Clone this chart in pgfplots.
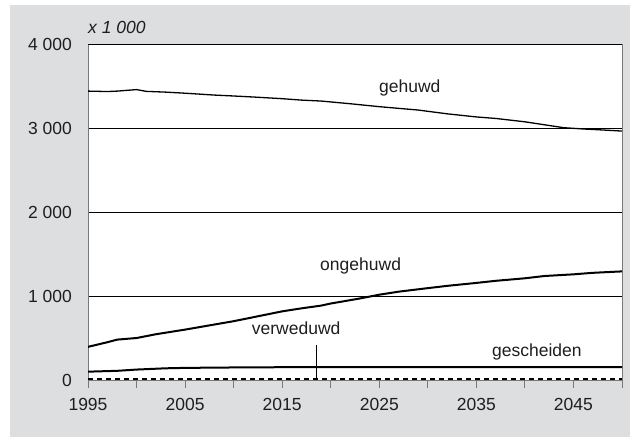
\documentclass[border=0pt]{standalone}
\usepackage{pgfplots}
\pgfplotsset{compat=1.18}
\usepackage{fontspec}
\setmainfont{Liberation Sans}

\definecolor{bggray}{RGB}{221,222,224}
\definecolor{axgray}{RGB}{120,120,120}
\definecolor{txt}{RGB}{30,30,30}

\begin{document}
\fontsize{17.5bp}{21bp}\selectfont
\begin{tikzpicture}
\path[use as bounding box] (0,0) rectangle (630bp,438bp);
\fill[bggray] (10bp,1bp) rectangle (630bp,433bp);
\node[anchor=base west, inner sep=0, text=txt, font=\itshape] at (88bp,404.7bp) {x 1 000};

\begin{axis}[
    at={(88bp,57.5bp)}, anchor=south west,
    scale only axis,
    width=534bp, height=336.5bp,
    xmin=1995, xmax=2050,
    ymin=0, ymax=4000,
    axis background/.style={fill=white},
    axis line style={draw=axgray, line width=1bp},
    xtick={1995,2000,...,2050},
    xticklabels={1995,,2005,,2015,,2025,,2035,,2045,},
    ytick={0,1000,2000,3000,4000},
    yticklabels={0,1 000,2 000,3 000,4 000},
    xtick pos=bottom, ytick pos=left,
    tick align=outside,
    major tick length=8bp,
    xtick style={draw=axgray, line width=1bp},
    ytick style={draw=none},
    ymajorgrids,
    major grid style={draw=black, line width=0.9bp},
    yticklabel style={anchor=east, inner sep=0pt, xshift=-8bp, text=txt},
    xticklabel style={anchor=north, inner sep=0pt, yshift=-10bp, text=txt},
]
% gehuwd
\addplot[black, line width=1.3bp] coordinates {
(1995,3440) (1997,3435) (1998,3440) (2000,3458) (2001,3437) (2003,3428)
(2005,3415) (2008,3393) (2010,3382) (2012,3370) (2015,3350) (2017,3333)
(2019,3322) (2022,3290) (2025,3255) (2027,3235) (2029,3215) (2032,3170)
(2035,3133) (2037,3115) (2040,3075) (2042,3040) (2044,3005) (2046,2990)
(2048,2978) (2050,2965)
};
% ongehuwd
\addplot[black, line width=2bp] coordinates {
(1995,400) (1997,455) (1998,486) (2000,505) (2002,550) (2005,605)
(2008,665) (2010,705) (2013,775) (2015,822) (2017,858) (2019,890)
(2020,915) (2023,975) (2025,1020) (2027,1056) (2030,1098) (2032,1125)
(2035,1160) (2037,1185) (2040,1215) (2042,1242) (2045,1262) (2047,1280)
(2050,1297)
};
% gescheiden
\addplot[black, line width=2bp] coordinates {
(1995,105) (1998,115) (2000,130) (2003,145) (2005,150) (2010,155)
(2015,158) (2020,160) (2030,160) (2040,160) (2050,160)
};
% verweduwd
\addplot[black, line width=2bp, dash pattern=on 5bp off 4bp] coordinates {
(1995,20) (2005,20) (2015,20) (2025,20) (2035,20) (2045,20) (2050,20)
};

\draw[black, line width=0.9bp] (axis cs:1995,4000) -- (axis cs:2050,4000);
\draw[black, line width=0.8bp] (axis cs:2018.5,422) -- (axis cs:2018.5,25);

\node[anchor=base west, inner sep=0, text=txt] at (axis cs:2024.97,3422) {gehuwd};
\node[anchor=base west, inner sep=0, text=txt] at (axis cs:2018.9,1306) {ongehuwd};
\node[anchor=base west, inner sep=0, text=txt] at (axis cs:2011.86,541) {verweduwd};
\node[anchor=base west, inner sep=0, text=txt] at (axis cs:2036.6,283) {gescheiden};
\end{axis}
\end{tikzpicture}
\end{document}
